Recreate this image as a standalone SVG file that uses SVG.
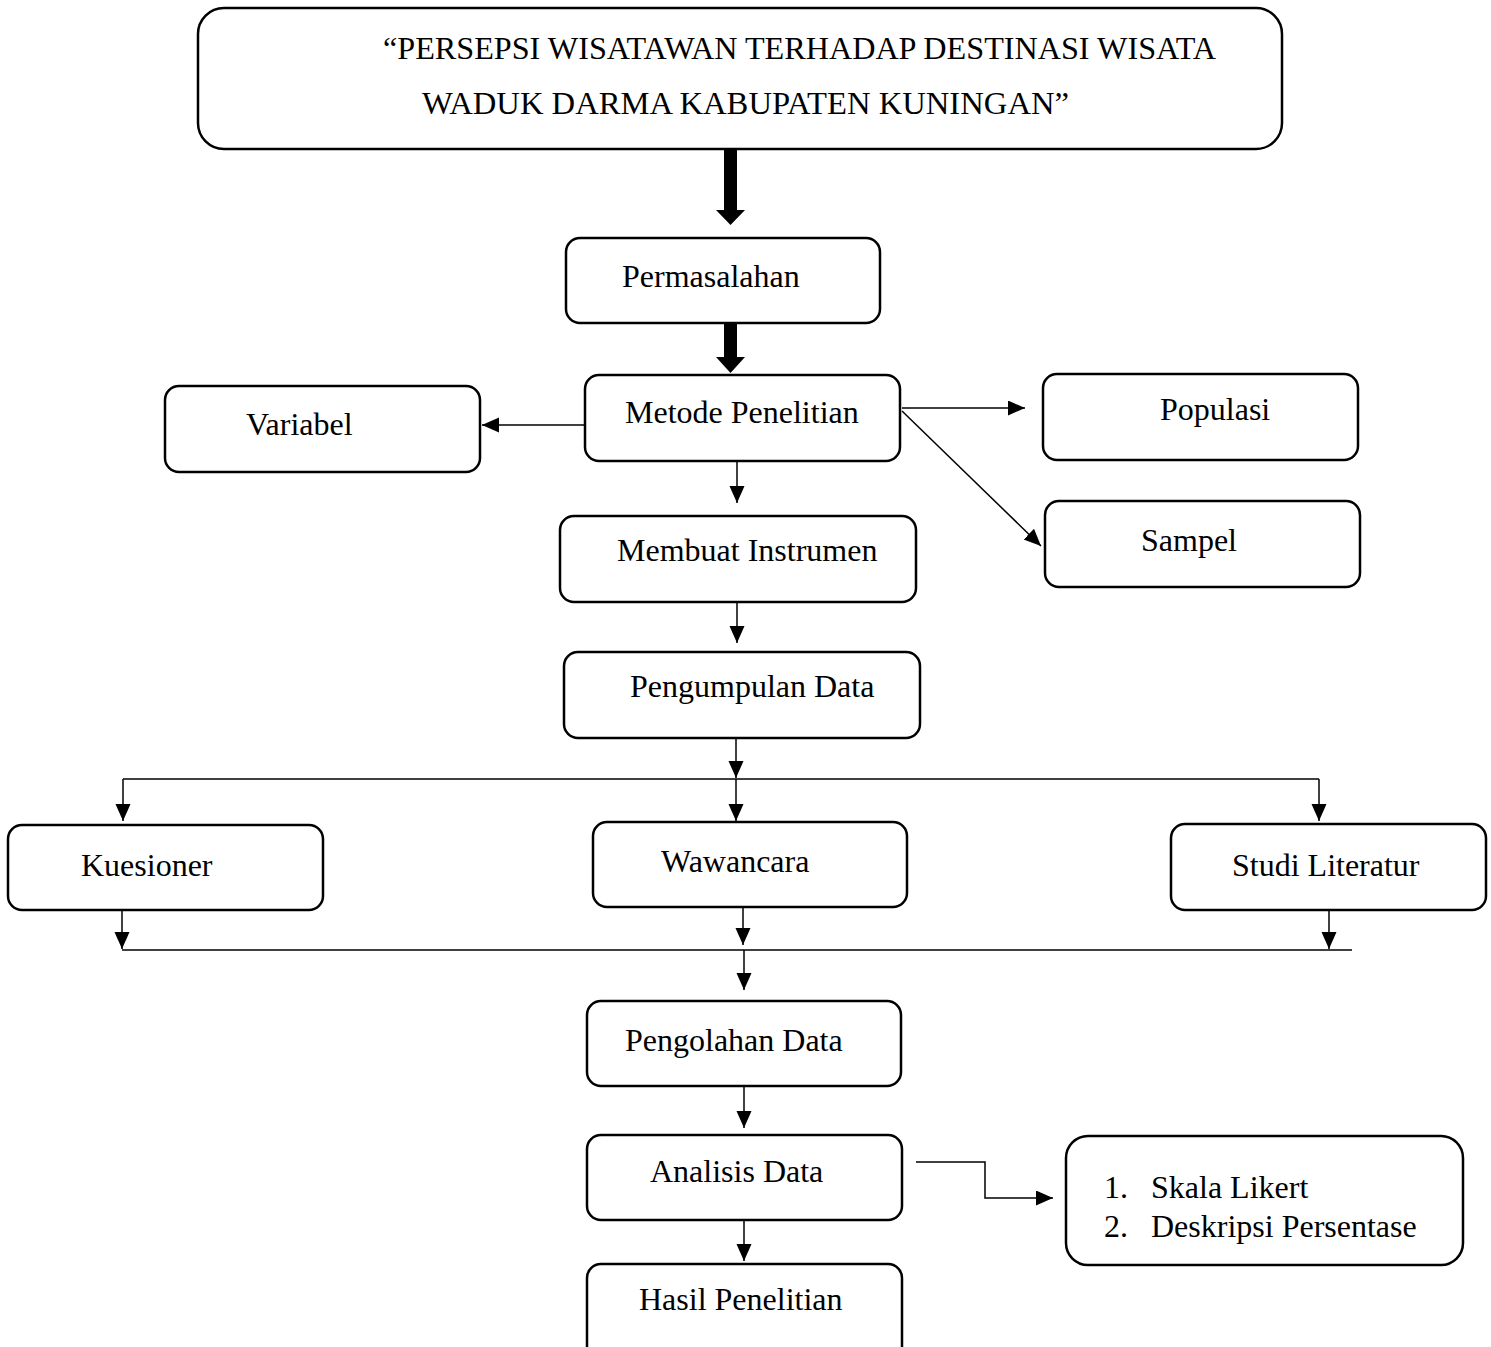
<svg xmlns="http://www.w3.org/2000/svg" width="1491" height="1347" viewBox="0 0 1491 1347">
<defs>
<style>
.box{fill:#fff;stroke:#000;stroke-width:2.5}
.t{font-family:"Liberation Serif","Times New Roman",serif;font-size:32px;fill:#000}
.ttl{font-family:"Liberation Serif","Times New Roman",serif;font-size:32px;fill:#000}
.ln{fill:none;stroke:#000;stroke-width:1.5}
</style>
<marker id="ah" markerUnits="userSpaceOnUse" markerWidth="20" markerHeight="16" refX="17" refY="7.5" orient="auto">
<path d="M0,0 L17,7.5 L0,15 z" fill="#000"/>
</marker>
</defs>
<rect width="1491" height="1347" fill="#fff"/>

<g id="judul">
<rect class="box" x="198" y="8" width="1084" height="141" rx="26"/>
<text class="ttl" x="383" y="59" textLength="833" lengthAdjust="spacingAndGlyphs">“PERSEPSI WISATAWAN TERHADAP DESTINASI WISATA</text>
<text class="ttl" x="422" y="114" textLength="647" lengthAdjust="spacingAndGlyphs">WADUK DARMA KABUPATEN KUNINGAN”</text>
</g>

<g id="permasalahan">
<rect class="box" x="566" y="238" width="314" height="85" rx="14"/>
<text class="t" x="622" y="287">Permasalahan</text>
</g>

<g id="metode">
<rect class="box" x="585" y="375" width="315" height="86" rx="14"/>
<text class="t" x="625" y="423">Metode Penelitian</text>
</g>

<g id="variabel">
<rect class="box" x="165" y="386" width="315" height="86" rx="14"/>
<text class="t" x="246" y="435">Variabel</text>
</g>

<g id="populasi">
<rect class="box" x="1043" y="374" width="315" height="86" rx="14"/>
<text class="t" x="1160" y="420">Populasi</text>
</g>

<g id="sampel">
<rect class="box" x="1045" y="501" width="315" height="86" rx="14"/>
<text class="t" x="1141" y="551">Sampel</text>
</g>

<g id="membuat">
<rect class="box" x="560" y="516" width="356" height="86" rx="14"/>
<text class="t" x="617" y="561">Membuat Instrumen</text>
</g>

<g id="pengumpulan">
<rect class="box" x="564" y="652" width="356" height="86" rx="14"/>
<text class="t" x="630" y="697">Pengumpulan Data</text>
</g>

<g id="kuesioner">
<rect class="box" x="8" y="825" width="315" height="85" rx="14"/>
<text class="t" x="81" y="876">Kuesioner</text>
</g>

<g id="wawancara">
<rect class="box" x="593" y="822" width="314" height="85" rx="14"/>
<text class="t" x="661" y="872">Wawancara</text>
</g>

<g id="studi">
<rect class="box" x="1171" y="824" width="315" height="86" rx="14"/>
<text class="t" x="1232" y="876">Studi Literatur</text>
</g>

<g id="pengolahan">
<rect class="box" x="587" y="1001" width="314" height="85" rx="14"/>
<text class="t" x="625" y="1051">Pengolahan Data</text>
</g>

<g id="analisis">
<rect class="box" x="587" y="1135" width="315" height="85" rx="14"/>
<text class="t" x="650" y="1182">Analisis Data</text>
</g>

<g id="hasil">
<rect class="box" x="587" y="1264" width="315" height="100" rx="14"/>
<text class="t" x="639" y="1310">Hasil Penelitian</text>
</g>

<g id="teknik">
<rect class="box" x="1066" y="1136" width="397" height="129" rx="22"/>
<text class="t" x="1104" y="1198">1.</text>
<text class="t" x="1151" y="1198">Skala Likert</text>
<text class="t" x="1104" y="1237">2.</text>
<text class="t" x="1151" y="1237">Deskripsi Persentase</text>
</g>

<g id="connectors">
<polygon points="724,149 737,149 737,210 745,210 730.5,225 716,210 724,210" fill="#000"/>
<polygon points="724,323 737,323 737,357 745,357 730.5,373 716,357 724,357" fill="#000"/>
<path class="ln" d="M585,425 H482" marker-end="url(#ah)"/>
<path class="ln" d="M902,408 H1025" marker-end="url(#ah)"/>
<path class="ln" d="M902,411 L1041,546" marker-end="url(#ah)"/>
<path class="ln" d="M737,462 V503" marker-end="url(#ah)"/>
<path class="ln" d="M737,603 V643" marker-end="url(#ah)"/>
<path class="ln" d="M736,738 V778" marker-end="url(#ah)"/>
<path class="ln" d="M123,779 H1319"/>
<path class="ln" d="M123,779 V821" marker-end="url(#ah)"/>
<path class="ln" d="M736,779 V821" marker-end="url(#ah)"/>
<path class="ln" d="M1319,779 V821" marker-end="url(#ah)"/>
<path class="ln" d="M122,910 V949" marker-end="url(#ah)"/>
<path class="ln" d="M743,907 V945" marker-end="url(#ah)"/>
<path class="ln" d="M1329,910 V949" marker-end="url(#ah)"/>
<path class="ln" d="M122,950 H1352"/>
<path class="ln" d="M744,950 V990" marker-end="url(#ah)"/>
<path class="ln" d="M744,1087 V1128" marker-end="url(#ah)"/>
<path class="ln" d="M916,1162 H985 V1198 H1053" marker-end="url(#ah)"/>
<path class="ln" d="M744,1221 V1261" marker-end="url(#ah)"/>
</g>
</svg>
